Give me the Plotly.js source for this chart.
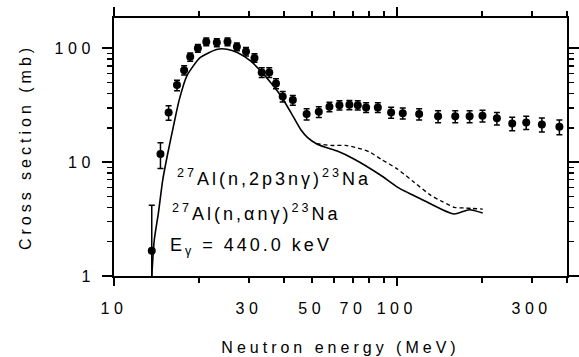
<!DOCTYPE html>
<html><head><meta charset="utf-8">
<script src="https://cdn.plot.ly/plotly-3.0.1.min.js"></script>
<style>
body{margin:0;background:#fff}
.xtick text,.ytick text{letter-spacing:4.5px}
.annotation-text{letter-spacing:3px}
.xtitle,.ytitle{letter-spacing:4px}
</style></head><body>
<div id="chart" style="width:579px;height:357px"></div>
<script>
// measured cross sections (mb) vs neutron energy (MeV)
const energy = [13.6, 14.6, 15.6, 16.7, 17.7, 18.6, 19.8, 21.2, 23.1, 25.2, 27.2, 29.3, 31.4, 33.3, 35.4, 37.4, 39.5, 42.9, 48.0, 53.0, 57.8, 62.7, 68.0, 72.8, 77.9, 85.7, 95.5, 105, 120, 140, 161, 181, 201, 226, 256, 287, 326, 376];
const sigma = [1.67, 11.8, 27.3, 47.4, 64.1, 83.9, 100, 114, 112, 114, 103, 93.6, 82.2, 61.2, 61.2, 49.0, 37.7, 35.0, 26.4, 27.6, 30.6, 31.6, 31.8, 31.6, 30.2, 30.2, 27.3, 26.9, 26.4, 25.2, 25.2, 25.2, 25.5, 24.2, 21.8, 22.3, 21.4, 20.4];
const errPlus = [2.5, 3, 4, 5, 6, 7, 8, 9, 9, 9, 8, 8, 7, 6, 6, 5, 4, 3.5, 3, 3, 3, 3, 3, 3, 3, 3, 3, 3, 3, 3, 3, 3, 3, 3, 3, 3, 3, 3];
const errMinus = [1.6, 3, 4, 5, 6, 7, 8, 9, 9, 9, 8, 8, 7, 6, 6, 5, 4, 3.5, 3, 3, 3, 3, 3, 3, 3, 3, 3, 3, 3, 3, 3, 3, 3, 3, 3, 3, 3, 3];
// calculation, solid curve
const solidE = [13.6, 13.88, 14.35, 14.87, 15.49, 16.21, 17.0, 18.1, 20.2, 23.2, 25.1, 27.3, 30.4, 33.0, 35.8, 38.9, 42.2, 45.8, 48.5, 52.0, 55.9, 61.6, 70.8, 87.5, 100.8, 125.2, 143.4, 159.8, 180.6, 201.4];
const solidS = [1.0, 2.07, 3.55, 6.95, 11.9, 20.4, 35.0, 57.2, 82.9, 98, 98, 91.7, 77.4, 63.2, 50.0, 38.2, 27.3, 19.2, 16.3, 14.5, 13.5, 12.5, 10.6, 7.7, 6.0, 4.58, 3.87, 3.50, 3.82, 3.57];
// calculation, dashed curve
const dashE = [52.0, 58.6, 66, 72.8, 80, 88, 100.8, 115.4, 132, 145, 160, 175, 183.5, 201.4];
const dashS = [14.5, 14.0, 14.0, 13.3, 12.3, 10.6, 8.66, 6.63, 5.1, 4.5, 4.0, 3.95, 3.92, 3.87];
// axis ticks
const xTickVals = [10, 30, 50, 70, 100, 300];
const xTickText = ['10', '30', '50', '70', '100', '300'];
const xMinorVals = [20, 40, 60, 80, 90, 200, 400];
const xLongTicks = [10, 100];
const yTickVals = [1, 10, 100];
const yTickText = ['1', '10', '100'];
const yMinorVals = [2, 3, 4, 5, 6, 7, 8, 9, 20, 30, 40, 50, 60, 70, 80, 90];
const labels = ['<sup>27</sup>Al(n,2p3nγ)<sup>23</sup>Na', '<sup>27</sup>Al(n,αnγ)<sup>23</sup>Na', 'E<sub>γ</sub> = 440.0 keV'];

const FONT = 'Liberation Sans, Arial, sans-serif';
const xr = [1, Math.log10(400)];
const yr = [0, 2.265];
const xTopShort = xTickVals.concat(xMinorVals).filter(v => xLongTicks.indexOf(v) < 0).sort((a, b) => a - b);

const traces = [
  {x: solidE, y: solidS, mode: 'lines', line: {color: '#000', width: 1.6, shape: 'spline', smoothing: 0.6}, xaxis: 'x', yaxis: 'y', hoverinfo: 'skip'},
  {x: dashE, y: dashS, mode: 'lines', line: {color: '#000', width: 1.3, dash: '4px,3px', shape: 'spline', smoothing: 0.6}, xaxis: 'x2', yaxis: 'y', hoverinfo: 'skip'},
  {x: energy, y: sigma, mode: 'markers', marker: {color: '#000', size: 8},
   error_y: {type: 'data', symmetric: false, array: errPlus, arrayminus: errMinus, color: '#000', thickness: 1.5, width: 3},
   xaxis: 'x3', yaxis: 'y2'}
];

const tickBase = {showgrid: false, zeroline: false, tickcolor: '#000', tickwidth: 2, ticks: 'outside', mirror: false};

const layout = {
  width: 579, height: 357,
  margin: {l: 114, r: 12, t: 18, b: 81},
  paper_bgcolor: '#fff', plot_bgcolor: '#fff',
  showlegend: false,
  font: {family: FONT, color: '#000', size: 16},
  xaxis: Object.assign({}, tickBase, {
    type: 'log', range: xr, side: 'bottom',
    showline: true, linecolor: '#000', linewidth: 2,
    ticklen: 5, tickmode: 'array', tickvals: xTickVals, ticktext: xTickText,
    ticklabelstandoff: 12,
    tickfont: {family: FONT, size: 16, color: '#000'},
    minor: {tickmode: 'array', tickvals: xMinorVals, ticks: 'outside', ticklen: 5, tickwidth: 2, tickcolor: '#000', showgrid: false},
    title: {text: 'Neutron energy (MeV)', font: {family: FONT, size: 16, color: '#000'}, standoff: 26}
  }),
  xaxis2: Object.assign({}, tickBase, {
    type: 'log', range: xr, overlaying: 'x', anchor: 'y', side: 'bottom',
    showline: false, ticklen: 9, tickmode: 'array', tickvals: xLongTicks, showticklabels: false
  }),
  xaxis3: Object.assign({}, tickBase, {
    type: 'log', range: xr, overlaying: 'x', anchor: 'y', side: 'top',
    showline: true, linecolor: '#000', linewidth: 2,
    ticklen: 9, tickmode: 'array', tickvals: xLongTicks, showticklabels: false,
    minor: {tickmode: 'array', tickvals: xTopShort, ticks: 'outside', ticklen: 5, tickwidth: 2, tickcolor: '#000', showgrid: false}
  }),
  yaxis: Object.assign({}, tickBase, {
    type: 'log', range: yr, side: 'left',
    showline: true, linecolor: '#000', linewidth: 2,
    ticklen: 10, tickmode: 'array', tickvals: yTickVals, ticktext: yTickText,
    ticklabelstandoff: 4,
    tickfont: {family: FONT, size: 16, color: '#000'},
    minor: {tickmode: 'array', tickvals: yMinorVals, ticks: 'outside', ticklen: 5, tickwidth: 1.5, tickcolor: '#000', showgrid: false},
    title: {text: 'Cross section (mb)', font: {family: FONT, size: 16, color: '#000'}, standoff: 19}
  }),
  yaxis2: Object.assign({}, tickBase, {
    type: 'log', range: yr, overlaying: 'y', anchor: 'x', side: 'right',
    showline: true, linecolor: '#000', linewidth: 2,
    ticklen: 10, tickmode: 'array', tickvals: yTickVals, showticklabels: false,
    minor: {tickmode: 'array', tickvals: yMinorVals, ticks: 'outside', ticklen: 5, tickwidth: 1.5, tickcolor: '#000', showgrid: false}
  }),
  annotations: [
    {text: labels[0], xref: 'paper', yref: 'paper', x: 0.134, y: 0.38, xanchor: 'left', yanchor: 'middle', showarrow: false, font: {family: FONT, size: 18, color: '#000'}},
    {text: labels[1], xref: 'paper', yref: 'paper', x: 0.123, y: 0.248, xanchor: 'left', yanchor: 'middle', showarrow: false, font: {family: FONT, size: 18, color: '#000'}},
    {text: labels[2], xref: 'paper', yref: 'paper', x: 0.119, y: 0.115, xanchor: 'left', yanchor: 'middle', showarrow: false, font: {family: FONT, size: 18, color: '#000'}}
  ]
};

Plotly.newPlot('chart', traces, layout, {displayModeBar: false, staticPlot: true});
</script>
</body></html>
